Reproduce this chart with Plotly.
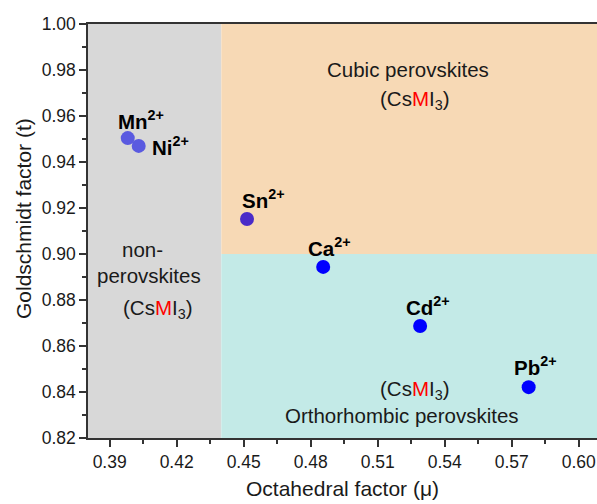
import plotly.graph_objects as go

# Data
ions = ["Mn", "Ni", "Sn", "Ca", "Cd", "Pb"]
mu = [0.3981, 0.4030, 0.4515, 0.4856, 0.5290, 0.5776]
t = [0.9504, 0.9470, 0.9152, 0.8944, 0.8687, 0.8421]
colors = ["#5a5ae0", "#5a5ae0", "#4a2bc8", "#0000ff", "#0000ff", "#0000ff"]

x_range = [0.3803, 0.6082]
y_range = [0.82, 1.00]
mu_boundary = 0.44
t_boundary = 0.90

FONT = "Liberation Sans, Arial, sans-serif"
TXT = "#1a1a1a"

fig = go.Figure()
fig.add_trace(go.Scatter(
    x=mu, y=t, mode="markers",
    marker=dict(size=14, color=colors, line=dict(width=0)),
    showlegend=False, hoverinfo="skip"))

shapes = [
    dict(type="rect", xref="x", yref="y", x0=x_range[0], x1=mu_boundary,
         y0=y_range[0], y1=y_range[1], fillcolor="#d8d8d8", line=dict(width=0), layer="below"),
    dict(type="rect", xref="x", yref="y", x0=mu_boundary, x1=x_range[1],
         y0=t_boundary, y1=y_range[1], fillcolor="#f7d9b5", line=dict(width=0), layer="below"),
    dict(type="rect", xref="x", yref="y", x0=mu_boundary, x1=x_range[1],
         y0=y_range[0], y1=t_boundary, fillcolor="#c3eae7", line=dict(width=0), layer="below"),
]

annotations = []
# ion labels: (xshift, yshift, xanchor)
label_off = {
    "Mn": (13, 18, "center"),
    "Ni": (11, 0, "left"),
    "Sn": (16, 20, "center"),
    "Ca": (6, 20, "center"),
    "Cd": (8, 20, "center"),
    "Pb": (7, 21, "center"),
}
for ion, xv, yv in zip(ions, mu, t):
    dx, dy, xa = label_off[ion]
    annotations.append(dict(
        x=xv, y=yv, xref="x", yref="y", showarrow=False,
        text=f"<b>{ion}<sup>2+</sup></b>", xanchor=xa, yanchor="middle",
        xshift=dx, yshift=dy, font=dict(family=FONT, size=20.5, color="black")))

csmi3 = "(Cs<span style='color:#ff0000'>M</span>I<sub>3</sub>)"
region_text = [
    ("Cubic perovskites", 0.5235, 0.9802),
    (csmi3, 0.5263, 0.9671),
    ("non-", 0.4049, 0.9021),
    ("perovskites", 0.4074, 0.8905),
    (csmi3, 0.4116, 0.8760),
    (csmi3, 0.5264, 0.8407),
    ("Orthorhombic perovskites", 0.5208, 0.8298),
]
for txt, xv, yv in region_text:
    annotations.append(dict(
        x=xv, y=yv, xref="x", yref="y", showarrow=False, text=txt,
        xanchor="center", yanchor="middle",
        font=dict(family=FONT, size=20.5, color=TXT)))

# y-axis title as annotation (slightly above plot centre as in reference)
annotations.append(dict(
    x=(23 - 88) / 509, y=(438 - 219) / 414, xref="paper", yref="paper",
    showarrow=False, text="Goldschmidt factor (t)", textangle=-90,
    xanchor="center", yanchor="middle",
    font=dict(family=FONT, size=21, color=TXT)))

fig.update_layout(
    width=597, height=504,
    margin=dict(l=88, r=0, t=24, b=66),
    paper_bgcolor="white", plot_bgcolor="white",
    shapes=shapes, annotations=annotations,
    font=dict(family=FONT, color=TXT),
)
fig.update_xaxes(
    range=x_range, showgrid=False, zeroline=False,
    showline=True, linecolor="#333333", linewidth=1.5, mirror=True,
    ticks="outside", ticklen=7, tickwidth=1.5, tickcolor="#333333",
    tick0=0.39, dtick=0.03, tickformat=".2f",
    minor=dict(ticks="outside", ticklen=4, tickwidth=1.5, tickcolor="#333333", dtick=0.015, tick0=0.39),
    tickfont=dict(size=17.5, family=FONT, color=TXT),
    title=dict(text="Octahedral factor (μ)", font=dict(size=21, family=FONT, color=TXT), standoff=11),
)
fig.update_yaxes(
    range=y_range, showgrid=False, zeroline=False,
    showline=True, linecolor="#333333", linewidth=1.5, mirror=False,
    ticks="outside", ticklen=7, tickwidth=1.5, tickcolor="#333333",
    tick0=0.82, dtick=0.02, tickformat=".2f",
    minor=dict(ticks="outside", ticklen=4, tickwidth=1.5, tickcolor="#333333", dtick=0.01, tick0=0.82),
    tickfont=dict(size=17.5, family=FONT, color=TXT),
)

fig.write_html("out.html")
